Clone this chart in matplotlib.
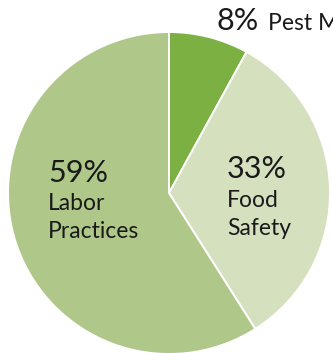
import matplotlib
matplotlib.use('Agg')
import matplotlib.pyplot as plt

# data
labels = ['Pest Management', 'Food Safety', 'Labor Practices']
shares = [8, 33, 59]
colors = ['#7cb043', '#d5e0bf', '#afc789']

W, H = 333, 353
fig = plt.figure(figsize=(W / 100, H / 100), dpi=100)
ax = fig.add_axes([0, 0, 1, 1])

cx, cy, r = 169, H - 193, 161
ax.pie(shares, colors=colors, startangle=90, counterclock=False,
       center=(cx, cy), radius=r, frame=True,
       wedgeprops=dict(edgecolor='white', linewidth=1.4))
ax.set_xlim(0, W)
ax.set_ylim(0, H)
ax.axis('off')

font = 'Lato'
big, small = 22, 16.5
txt = '#1a1a1a'

# 8% label (runs off the right edge, as in the original)
ax.text(216, H - 30, '%d%%' % shares[0], fontsize=big, family=font, color=txt, va='baseline')
ax.text(268, H - 30, labels[0], fontsize=small, family=font, color=txt, va='baseline')

# 33%
ax.text(227, H - 178, '%d%%' % shares[1], fontsize=big, family=font, color=txt, va='baseline')
ax.text(227, H - 207, 'Food', fontsize=small, family=font, color=txt, va='baseline')
ax.text(227, H - 235, 'Safety', fontsize=small, family=font, color=txt, va='baseline')

# 59%
ax.text(48, H - 182, '%d%%' % shares[2], fontsize=big, family=font, color=txt, va='baseline')
ax.text(48, H - 210, 'Labor', fontsize=small, family=font, color=txt, va='baseline')
ax.text(48, H - 238, 'Practices', fontsize=small, family=font, color=txt, va='baseline')

plt.savefig('out.png', dpi=100)
plt.close()
